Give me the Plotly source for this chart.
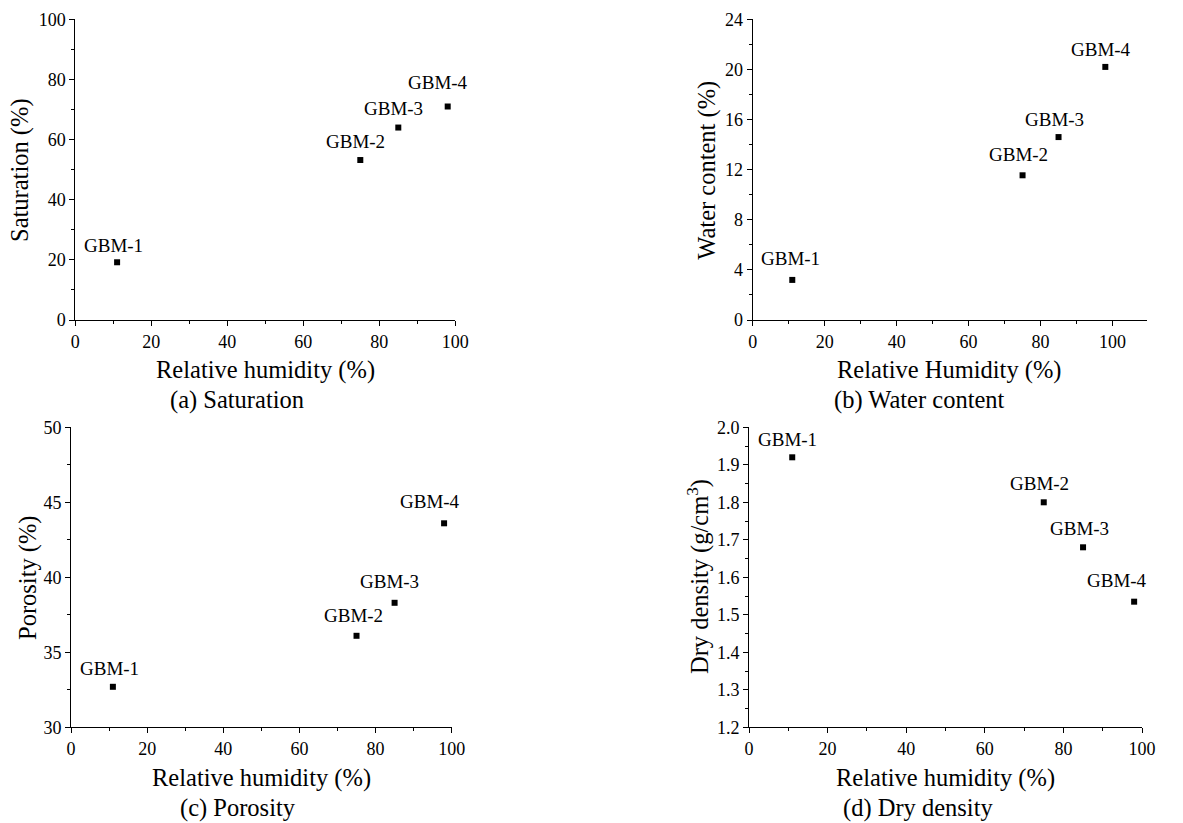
import plotly.graph_objects as go

# ---- data ----
rh = [11, 75, 85, 98]
sample_labels = ["GBM-1", "GBM-2", "GBM-3", "GBM-4"]
saturation = [19.2, 53.2, 64.0, 71.0]
water_content = [3.2, 11.55, 14.6, 20.2]
porosity = [32.7, 36.1, 38.3, 43.6]
dry_density = [1.92, 1.80, 1.68, 1.535]

x_titles = ["Relative humidity (%)", "Relative Humidity (%)",
            "Relative humidity (%)", "Relative humidity (%)"]
y_titles = ["Saturation (%)", "Water content (%)", "Porosity (%)",
            "Dry density (g/cm<sup>3</sup>)"]
captions = ["(a) Saturation", "(b) Water content", "(c) Porosity", "(d) Dry density"]

# ---- styling / layout (pixels of the 1183x823 view) ----
VIEW_W, VIEW_H = 1183, 823
OFF = 8                      # page body margin
W, H = VIEW_W - OFF, VIEW_H - OFF
FONT = "Liberation Serif, Times New Roman, serif"

# panel boxes: (x_left, x_right, y_bottom, y_top)
panels = [
    (75.3, 455.3, 320.0, 19.3),
    (752.7, 1146.7, 320.0, 19.3),
    (71.0, 451.7, 727.3, 427.3),
    (749.0, 1142.0, 727.3, 427.3),
]
x_ranges = [[0, 100], [0, 109.5], [0, 100], [0, 100]]
y_ranges = [[0, 100], [0, 24], [30, 50], [1.2, 2.0]]
y_dticks = [20, 4, 5, 0.1]
y_minor = [10, 2, 2.5, 0.05]
y_fmt = ["d", "d", "d", ".1f"]
series = [saturation, water_content, porosity, dry_density]

# label offsets (dx, gap above marker) per panel/point, in px
label_dx = [[-4, -4.5, -5, -10], [-2, -4, -4, -4], [-3, -3.5, -5, -14], [-5, -4, -4, -17]]
label_gap = [[8, 10, 11, 16], [13, 12, 9, 9], [10, 12, 12.5, 13], [9, 10, 10, 13]]

xtitle_pos = [(265.3, 370), (949.7, 370), (261.3, 778), (945.5, 778)]
caption_pos = [(236.7, 400), (919, 400), (237.5, 808), (918, 808)]
ytitle_pos = [(20, 170), (706.7, 170), (28, 578), (698, 577)]


def fx(px):
    return (px - OFF) / W


def fy(py):
    return 1 - (py - OFF) / H


fig = go.Figure()
layout = dict(
    width=W, height=H, autosize=False,
    margin=dict(l=0, r=0, t=0, b=0, pad=0, autoexpand=False),
    paper_bgcolor="white", plot_bgcolor="white",
    showlegend=False,
    font=dict(family=FONT, color="black", size=18),
)
annotations = []

for i, (x0, x1, yb, yt) in enumerate(panels):
    n = "" if i == 0 else str(i + 1)
    xa, ya = "x" + n, "y" + n
    fig.add_trace(go.Scatter(
        x=rh, y=series[i], mode="markers",
        marker=dict(symbol="square", size=6, color="black"),
        cliponaxis=False, xaxis=xa, yaxis=ya, hovertext=sample_labels,
    ))
    for j, lab in enumerate(sample_labels):
        annotations.append(dict(
            text=lab, x=rh[j], y=series[i][j], xref=xa, yref=ya,
            showarrow=False, xanchor="center", yanchor="bottom",
            xshift=label_dx[i][j], yshift=label_gap[i][j] - 4,
            font=dict(family=FONT, size=19, color="black"),
        ))
    common = dict(
        showline=True, linecolor="black", linewidth=1,
        ticks="outside", ticklen=5, tickwidth=1, tickcolor="black",
        showgrid=False, zeroline=False, mirror=False, automargin=False,
        tickfont=dict(family=FONT, size=18, color="black"),
    )
    layout["xaxis" + n] = dict(
        common, domain=[fx(x0), fx(x1)], range=x_ranges[i],
        anchor=ya, tickmode="linear", tick0=0, dtick=20,
        minor=dict(ticks="outside", ticklen=3, dtick=10, tick0=0,
                   tickcolor="black", showgrid=False),
    )
    layout["yaxis" + n] = dict(
        common, domain=[fy(yb), fy(yt)], range=y_ranges[i],
        anchor=xa, tickmode="linear", tick0=y_ranges[i][0], dtick=y_dticks[i],
        tickformat=y_fmt[i],
        minor=dict(ticks="outside", ticklen=3, dtick=y_minor[i], tick0=y_ranges[i][0],
                   tickcolor="black", showgrid=False),
    )
    px, py = xtitle_pos[i]
    annotations.append(dict(text=x_titles[i], x=fx(px), y=fy(py),
                            xref="paper", yref="paper", showarrow=False,
                            xanchor="center", yanchor="middle",
                            font=dict(family=FONT, size=24.5, color="black")))
    px, py = caption_pos[i]
    annotations.append(dict(text=captions[i], x=fx(px), y=fy(py),
                            xref="paper", yref="paper", showarrow=False,
                            xanchor="center", yanchor="middle",
                            font=dict(family=FONT, size=24.5, color="black")))
    px, py = ytitle_pos[i]
    annotations.append(dict(text=y_titles[i], x=fx(px), y=fy(py),
                            xref="paper", yref="paper", showarrow=False,
                            textangle=-90, xanchor="center", yanchor="middle",
                            font=dict(family=FONT, size=24.5, color="black")))

layout["annotations"] = annotations
fig.update_layout(**layout)
fig.write_html("out.html")
